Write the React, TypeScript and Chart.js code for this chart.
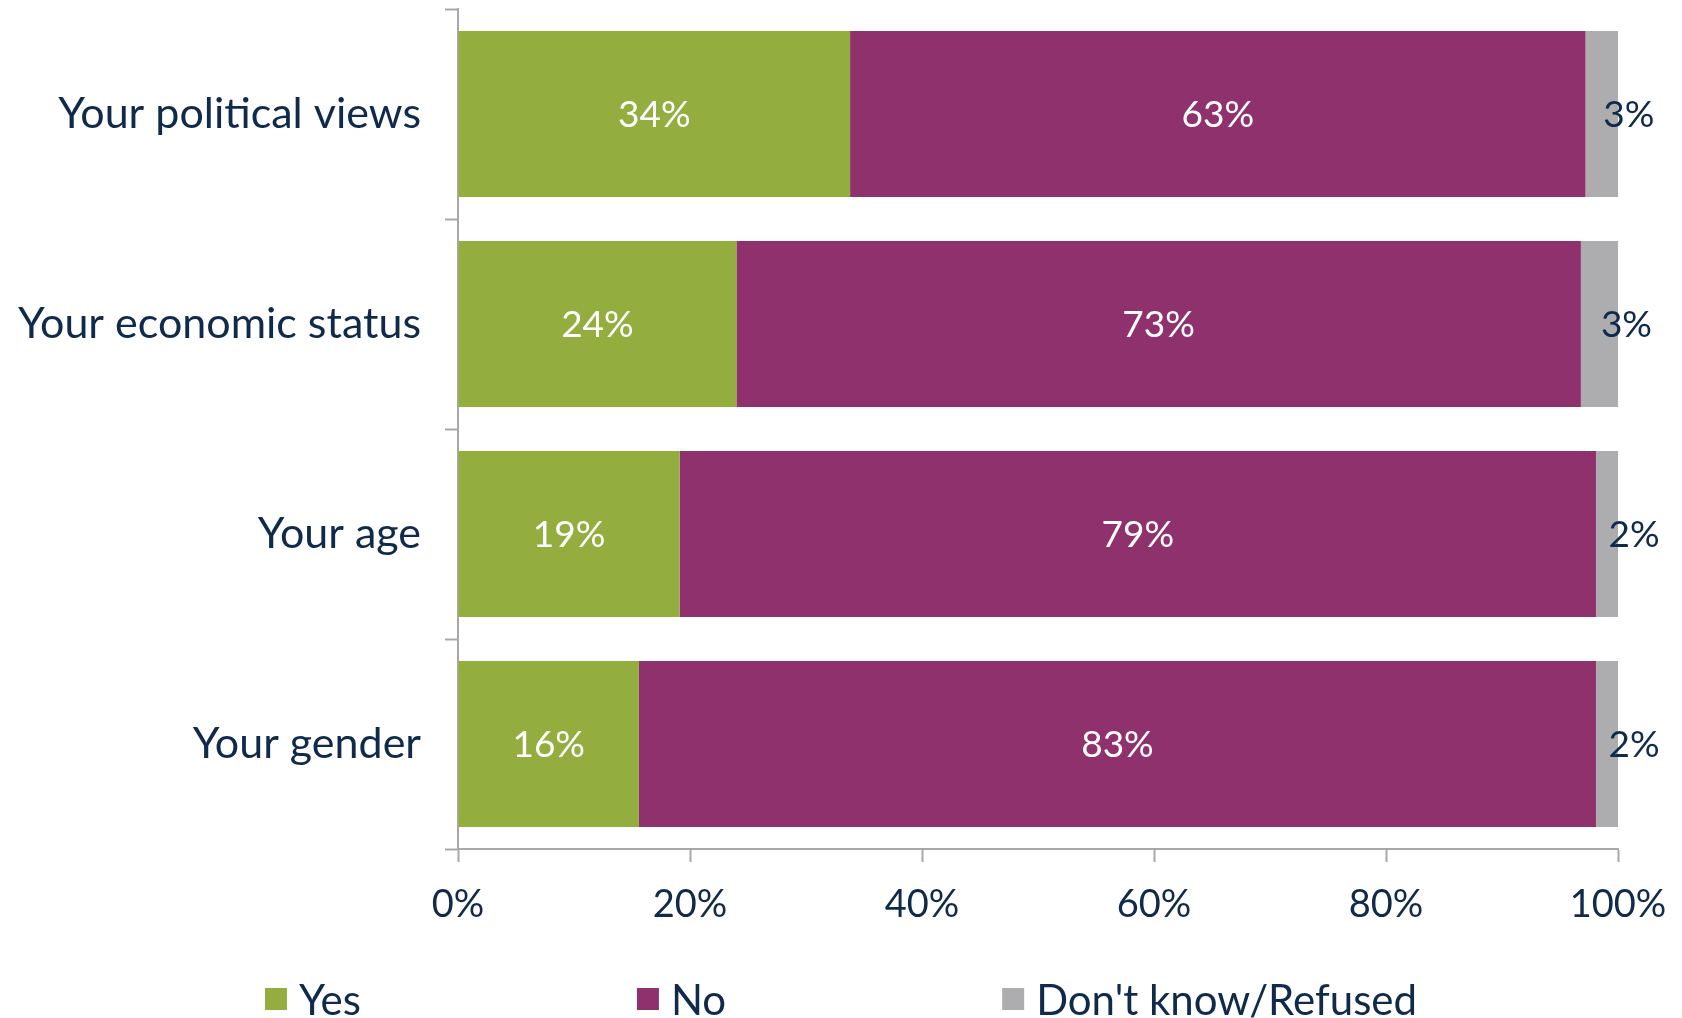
import React, { useEffect, useRef } from "react";
import { Chart, registerables } from "chart.js";

Chart.register(...registerables);

const categories = ["Your political views", "Your economic status", "Your age", "Your gender"];
const seriesNames = ["Yes", "No", "Don't know/Refused"];
const yesValues = [33.8, 24.0, 19.1, 15.6];
const noValues = [63.4, 72.8, 79.0, 82.5];
const dkValues = [2.8, 3.2, 1.9, 1.9];
const xTicks = [0, 20, 40, 60, 80, 100];

const GREEN = "#93AE3F";
const PURPLE = "#8F316C";
const GRAY = "#ADADAF";
const NAVY = "#0F2A4A";
const AXIS = "#A8A8AC";
const FONT = "Lato";

const W = 1682;
const H = 1018;

export default function App() {
  const ref = useRef<HTMLCanvasElement | null>(null);

  useEffect(() => {
    if (!ref.current) return;

    const labelPlugin = {
      id: "barLabels",
      afterDatasetsDraw(chart: any) {
        const ctx = chart.ctx;
        ctx.save();
        ctx.font = `37px ${FONT}`;
        ctx.textAlign = "center";
        ctx.textBaseline = "middle";
        chart.data.datasets.forEach((ds: any, di: number) => {
          const meta = chart.getDatasetMeta(di);
          meta.data.forEach((el: any, i: number) => {
            const v = ds.data[i];
            const txt = Math.round(v) + "%";
            let cx = (el.x + el.base) / 2;
            if (di === 2) {
              ctx.fillStyle = NAVY;
              cx += 27;
            } else {
              ctx.fillStyle = "#ffffff";
            }
            ctx.fillText(txt, cx, el.y + 1);
          });
        });
        ctx.restore();
      },
    };

    const legendPlugin = {
      id: "customLegend",
      afterDraw(chart: any) {
        const ctx = chart.ctx;
        ctx.save();
        ctx.font = `42px ${FONT}`;
        ctx.textBaseline = "middle";
        ctx.textAlign = "left";
        const box = 22;
        const gapText = 12;
        const gapItem = 276;
        const widths = chart.data.datasets.map((d: any) => box + gapText + ctx.measureText(d.label).width);
        const total = widths.reduce((a: number, b: number) => a + b, 0) + gapItem * (widths.length - 1);
        let x = (chart.width - total) / 2;
        const cy = 999;
        chart.data.datasets.forEach((d: any, i: number) => {
          ctx.fillStyle = d.backgroundColor;
          ctx.fillRect(x, cy - box / 2, box, box);
          ctx.fillStyle = NAVY;
          ctx.fillText(d.label, x + box + gapText, cy + 2);
          x += widths[i] + gapItem;
        });
        ctx.restore();
      },
    };

    const chart = new Chart(ref.current, {
      type: "bar",
      data: {
        labels: categories,
        datasets: [
          { label: seriesNames[0], data: yesValues, backgroundColor: GREEN },
          { label: seriesNames[1], data: noValues, backgroundColor: PURPLE },
          { label: seriesNames[2], data: dkValues, backgroundColor: GRAY },
        ],
      },
      options: {
        indexAxis: "y",
        responsive: false,
        animation: false,
        devicePixelRatio: 1,
        layout: { padding: { top: 9, right: 64, bottom: 92, left: 0 } },
        datasets: { bar: { barPercentage: 0.79, categoryPercentage: 1 } },
        plugins: {
          legend: { display: false },
          tooltip: { enabled: false },
        },
        scales: {
          x: {
            stacked: true,
            min: 0,
            max: 100,
            afterBuildTicks(scale: any) {
              scale.ticks = xTicks.map((v) => ({ value: v }));
            },
            afterFit(scale: any) {
              scale.height = 77;
              scale.paddingLeft = 0;
              scale.paddingRight = 0;
            },
            ticks: {
              callback: (v: any) => v + "%",
              color: NAVY,
              font: { family: FONT, size: 38 },
              padding: 20,
              maxRotation: 0,
            },
            grid: {
              drawOnChartArea: false,
              drawTicks: true,
              tickLength: 13,
              tickWidth: 2,
              tickColor: AXIS,
              color: AXIS,
            },
            border: { display: true, color: AXIS, width: 2 },
          },
          y: {
            stacked: true,
            afterFit(scale: any) {
              scale.width = 458;
              scale.paddingTop = 0;
              scale.paddingBottom = 0;
            },
            ticks: {
              color: NAVY,
              font: { family: FONT, size: 43 },
              padding: 24,
            },
            grid: {
              offset: true,
              drawOnChartArea: false,
              drawTicks: true,
              tickLength: 13,
              tickWidth: 2,
              tickColor: AXIS,
              color: AXIS,
            },
            border: { display: true, color: AXIS, width: 2 },
          },
        },
      },
      plugins: [labelPlugin, legendPlugin],
    });

    return () => chart.destroy();
  }, []);

  return (
    <div style={{ position: "fixed", left: 0, top: 0, width: W, height: H, background: "#fff" }}>
      <canvas ref={ref} width={W} height={H} style={{ width: W, height: H, display: "block" }} />
    </div>
  );
}
